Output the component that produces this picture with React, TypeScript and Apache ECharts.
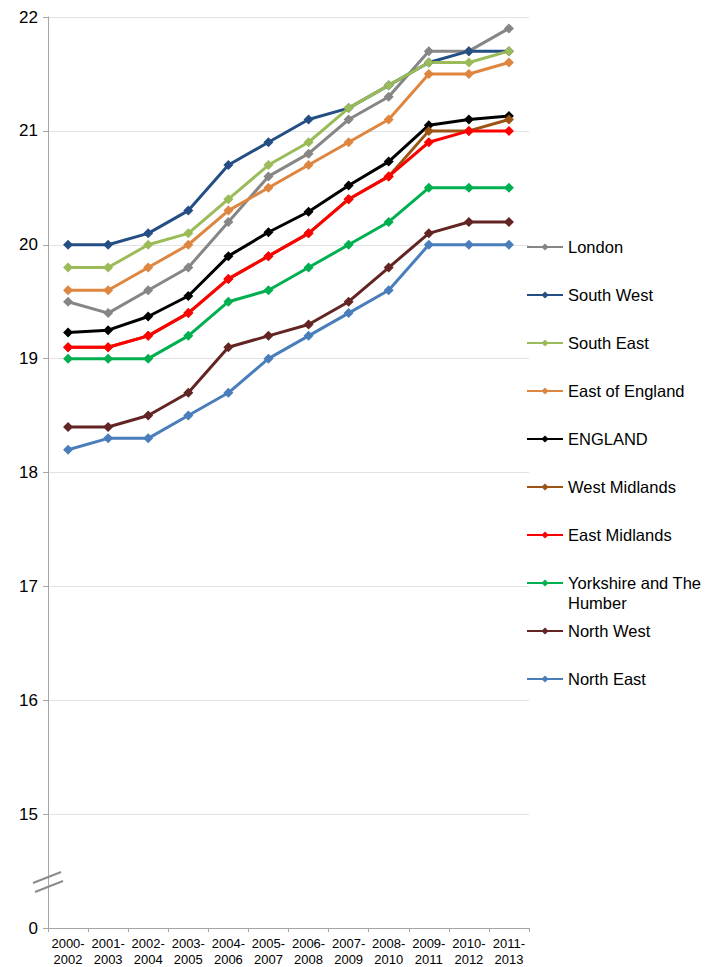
import React, { useEffect, useRef } from "react";
import * as echarts from "echarts";

const periods = [
  "2000-\n2002", "2001-\n2003", "2002-\n2004", "2003-\n2005", "2004-\n2006", "2005-\n2007",
  "2006-\n2008", "2007-\n2009", "2008-\n2010", "2009-\n2011", "2010-\n2012", "2011-\n2013",
];

const london = [19.5, 19.4, 19.6, 19.8, 20.2, 20.6, 20.8, 21.1, 21.3, 21.7, 21.7, 21.9];
const southWest = [20.0, 20.0, 20.1, 20.3, 20.7, 20.9, 21.1, 21.2, 21.4, 21.6, 21.7, 21.7];
const southEast = [19.8, 19.8, 20.0, 20.1, 20.4, 20.7, 20.9, 21.2, 21.4, 21.6, 21.6, 21.7];
const eastOfEngland = [19.6, 19.6, 19.8, 20.0, 20.3, 20.5, 20.7, 20.9, 21.1, 21.5, 21.5, 21.6];
const england = [19.23, 19.25, 19.37, 19.55, 19.9, 20.11, 20.29, 20.52, 20.73, 21.05, 21.1, 21.13];
const westMidlands = [19.1, 19.1, 19.2, 19.4, 19.7, 19.9, 20.1, 20.4, 20.6, 21.0, 21.0, 21.1];
const eastMidlands = [19.1, 19.1, 19.2, 19.4, 19.7, 19.9, 20.1, 20.4, 20.6, 20.9, 21.0, 21.0];
const yorkshire = [19.0, 19.0, 19.0, 19.2, 19.5, 19.6, 19.8, 20.0, 20.2, 20.5, 20.5, 20.5];
const northWest = [18.4, 18.4, 18.5, 18.7, 19.1, 19.2, 19.3, 19.5, 19.8, 20.1, 20.2, 20.2];
const northEast = [18.2, 18.3, 18.3, 18.5, 18.7, 19.0, 19.2, 19.4, 19.6, 20.0, 20.0, 20.0];

const regions = [
  { name: "London", data: london, color: "#868686" },
  { name: "South West", data: southWest, color: "#254F84" },
  { name: "South East", data: southEast, color: "#9BBB59" },
  { name: "East of England", data: eastOfEngland, color: "#DE8640" },
  { name: "ENGLAND", data: england, color: "#000000" },
  { name: "West Midlands", data: westMidlands, color: "#9A5414" },
  { name: "East Midlands", data: eastMidlands, color: "#FF0000" },
  { name: "Yorkshire and The Humber", data: yorkshire, color: "#00B050" },
  { name: "North West", data: northWest, color: "#632523" },
  { name: "North East", data: northEast, color: "#4A7EBB" },
];

// The value axis is broken: the bottom step stands for 0
const axisMin = 14;
const axisMax = 22;
const axisStep = 1;

const FONT = 'Arial, "Liberation Sans", sans-serif';

export default function App() {
  const ref = useRef<HTMLDivElement>(null);

  useEffect(() => {
    if (!ref.current) return;
    const chart = echarts.init(ref.current, null, { renderer: "svg" });

    const legendTop0 = 247;
    const legendGap = 48;

    // one legend block per region so each entry sits on its own row;
    // the long name wraps below its marker
    const legends = regions.map((r, i) => {
      const cy = legendTop0 + i * legendGap;
      const twoLine = r.name === "Yorkshire and The Humber";
      const lh = twoLine ? 20 : 18;
      return {
        data: [r.name],
        orient: "vertical",
        left: 526,
        top: twoLine ? cy - lh * 1.5 : cy - lh / 2,
        padding: 0,
        itemWidth: 36,
        itemHeight: 9,
        itemGap: 0,
        selectedMode: false,
        formatter: (n: string) => (n === "Yorkshire and The Humber" ? " \nYorkshire and The\nHumber" : n),
        textStyle: {
          fontFamily: FONT,
          fontSize: 16.5,
          color: "#000",
          lineHeight: lh,
        },
      };
    });

    chart.setOption({
      animation: false,
      backgroundColor: "#fff",
      grid: { left: 48, right: 180, top: 17, bottom: 37 },
      legend: legends,
      xAxis: {
        type: "category",
        data: periods,
        boundaryGap: true,
        axisLine: { lineStyle: { color: "#A6A6A6", width: 1 } },
        axisTick: { show: true, length: 4, lineStyle: { color: "#A6A6A6" } },
        axisLabel: {
          interval: 0,
          fontFamily: FONT,
          fontSize: 13,
          lineHeight: 16,
          color: "#000",
          margin: 7,
        },
      },
      yAxis: {
        type: "value",
        min: axisMin,
        max: axisMax,
        interval: axisStep,
        axisLine: { show: true, lineStyle: { color: "#A6A6A6", width: 1 } },
        axisTick: { show: true, length: 5, lineStyle: { color: "#A6A6A6" } },
        axisLabel: {
          fontFamily: FONT,
          fontSize: 17,
          color: "#000",
          margin: 10,
          formatter: (v: number) => (v === axisMin ? "0" : String(v)),
        },
        splitLine: { show: true, lineStyle: { color: "#E3E3E3", width: 1 } },
      },
      graphic: [
        {
          type: "line",
          shape: { x1: 33, y1: 883, x2: 61, y2: 872 },
          style: { stroke: "#8C8C8C", lineWidth: 2 },
          z: 100,
        },
        {
          type: "line",
          shape: { x1: 35, y1: 892, x2: 63, y2: 881 },
          style: { stroke: "#8C8C8C", lineWidth: 2 },
          z: 100,
        },
      ],
      series: regions.map((r) => ({
        name: r.name,
        type: "line",
        data: r.data,
        symbol: "diamond",
        symbolSize: 10,
        showSymbol: true,
        itemStyle: { color: r.color },
        lineStyle: { color: r.color, width: 3 },
        emphasis: { disabled: true },
      })),
    });

    return () => chart.dispose();
  }, []);

  return <div ref={ref} style={{ width: 709, height: 967, position: "absolute", left: 0, top: 0 }} />;
}
